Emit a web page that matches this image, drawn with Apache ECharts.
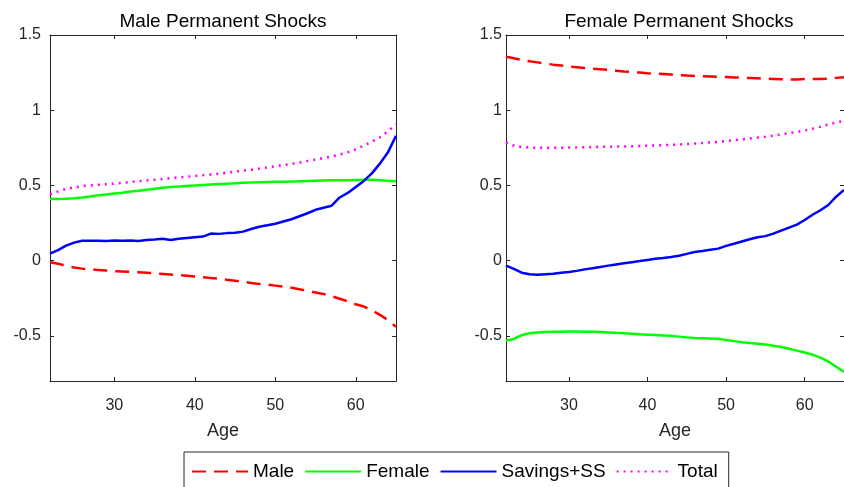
<!DOCTYPE html>
<html><head><meta charset="utf-8">
<script src="https://cdn.jsdelivr.net/npm/echarts@6/dist/echarts.min.js"></script>
<style>html,body{margin:0;padding:0;background:#fff}#c{width:844px;height:487px}</style>
</head><body><div id="c"></div>
<script>
const ages = [22,23,24,25,26,27,28,29,30,31,32,33,34,35,36,37,38,39,40,41,42,43,44,45,46,47,48,49,50,51,52,53,54,55,56,57,58,59,60,61,62,63,64,65];
const xTicks = [30,40,50,60];
const yTicks = [-0.5,0,0.5,1,1.5];
const seriesNames = ['Male','Female','Savings+SS','Total'];
const panelTitles = ['Male Permanent Shocks','Female Permanent Shocks'];

// Panel 1: Male Permanent Shocks
const maleShock_Male = [-0.01,-0.02,-0.035,-0.045,-0.053,-0.058,-0.062,-0.066,-0.07,-0.072,-0.075,-0.077,-0.08,-0.085,-0.088,-0.092,-0.096,-0.1,-0.105,-0.11,-0.116,-0.12,-0.127,-0.133,-0.14,-0.148,-0.155,-0.16,-0.166,-0.173,-0.18,-0.19,-0.2,-0.212,-0.222,-0.237,-0.253,-0.27,-0.29,-0.305,-0.33,-0.36,-0.395,-0.44];
const maleShock_Female = [0.41,0.41,0.412,0.415,0.42,0.427,0.435,0.44,0.447,0.452,0.46,0.465,0.472,0.478,0.485,0.49,0.493,0.497,0.5,0.503,0.506,0.509,0.512,0.515,0.518,0.52,0.522,0.523,0.524,0.525,0.526,0.527,0.529,0.531,0.533,0.535,0.534,0.535,0.536,0.537,0.538,0.535,0.531,0.528];
const maleShock_Savings = [0.047,0.07,0.1,0.12,0.132,0.133,0.132,0.13,0.134,0.133,0.134,0.13,0.137,0.14,0.145,0.138,0.145,0.15,0.155,0.16,0.18,0.178,0.183,0.186,0.193,0.21,0.225,0.235,0.245,0.26,0.275,0.295,0.315,0.338,0.352,0.365,0.42,0.45,0.49,0.53,0.58,0.645,0.72,0.83];
const maleShock_Total = [0.44,0.46,0.477,0.487,0.495,0.5,0.504,0.508,0.512,0.517,0.523,0.528,0.533,0.538,0.543,0.548,0.553,0.558,0.563,0.568,0.573,0.578,0.585,0.592,0.598,0.605,0.612,0.62,0.627,0.635,0.643,0.652,0.662,0.672,0.682,0.692,0.705,0.72,0.74,0.765,0.79,0.82,0.86,0.905];

// Panel 2: Female Permanent Shocks
const femaleShock_Male = [1.355,1.345,1.335,1.325,1.318,1.31,1.303,1.297,1.29,1.285,1.28,1.276,1.272,1.268,1.263,1.258,1.254,1.25,1.246,1.243,1.24,1.237,1.233,1.23,1.228,1.226,1.224,1.222,1.22,1.218,1.216,1.214,1.212,1.21,1.208,1.206,1.205,1.205,1.207,1.208,1.208,1.21,1.215,1.22];
const femaleShock_Female = [-0.533,-0.52,-0.495,-0.483,-0.478,-0.475,-0.473,-0.472,-0.471,-0.471,-0.472,-0.473,-0.475,-0.477,-0.48,-0.482,-0.486,-0.49,-0.492,-0.494,-0.497,-0.5,-0.505,-0.51,-0.514,-0.516,-0.518,-0.52,-0.527,-0.535,-0.542,-0.548,-0.553,-0.558,-0.565,-0.574,-0.585,-0.598,-0.61,-0.625,-0.645,-0.67,-0.705,-0.74];
const femaleShock_Savings = [-0.033,-0.055,-0.08,-0.09,-0.093,-0.09,-0.087,-0.08,-0.075,-0.068,-0.058,-0.05,-0.042,-0.033,-0.025,-0.017,-0.01,-0.003,0.005,0.012,0.018,0.025,0.033,0.045,0.058,0.064,0.072,0.08,0.098,0.112,0.127,0.142,0.155,0.163,0.18,0.2,0.22,0.24,0.27,0.305,0.335,0.37,0.425,0.47];
const femaleShock_Total = [0.787,0.765,0.755,0.752,0.75,0.75,0.75,0.751,0.752,0.753,0.754,0.755,0.756,0.757,0.758,0.759,0.76,0.762,0.764,0.766,0.768,0.77,0.772,0.775,0.778,0.782,0.786,0.79,0.795,0.8,0.806,0.812,0.818,0.824,0.831,0.839,0.847,0.855,0.865,0.877,0.89,0.905,0.918,0.93];

const panels = [
  [maleShock_Male, maleShock_Female, maleShock_Savings, maleShock_Total],
  [femaleShock_Male, femaleShock_Female, femaleShock_Savings, femaleShock_Total]
];

const FONT = '"Liberation Sans", Arial, Helvetica, sans-serif';
const AX = '#262626';
const styles = [
  {color:'#ff0000', type:[14,8]},
  {color:'#00ff00', type:'solid'},
  {color:'#0000ff', type:'solid'},
  {color:'#ff00ff', type:[2,5]}
];

const grids = [
  {left:50, top:35, width:346, height:346},
  {left:506, top:35, width:346, height:346}
];

const xAxes = [], yAxes = [], series = [];
grids.forEach((g, gi) => {
  const base = {
    gridIndex: gi, type:'value', min:22, max:65,
    axisLine:{show:true, onZero:false, lineStyle:{color:AX, width:1}},
    splitLine:{show:false}
  };
  xAxes.push(Object.assign({}, base, {
    position:'bottom',
    axisTick:{show:true, inside:true, length:4, customValues:xTicks, lineStyle:{color:AX}},
    axisLabel:{show:true, customValues:xTicks, margin:17, fontSize:16, color:AX, fontFamily:FONT},
    name:'Age', nameLocation:'middle', nameGap:41,
    nameTextStyle:{fontSize:18, color:AX, fontFamily:FONT}
  }));
  xAxes.push(Object.assign({}, base, {
    position:'top',
    axisTick:{show:true, inside:true, length:4, customValues:xTicks, lineStyle:{color:AX}},
    axisLabel:{show:false}
  }));
  const ybase = {
    gridIndex: gi, type:'value', min:-0.8, max:1.5,
    axisLine:{show:true, onZero:false, lineStyle:{color:AX, width:1}},
    splitLine:{show:false}
  };
  yAxes.push(Object.assign({}, ybase, {
    position:'left',
    axisTick:{show:true, inside:true, length:4, customValues:yTicks, lineStyle:{color:AX}},
    axisLabel:{show:true, customValues:yTicks, margin: gi===0 ? 9 : 4, fontSize:16, color:AX, fontFamily:FONT,
      formatter: v => String(Math.round(v*10)/10)}
  }));
  yAxes.push(Object.assign({}, ybase, {
    position:'right',
    axisTick:{show:true, inside:true, length:4, customValues:yTicks, lineStyle:{color:AX}},
    axisLabel:{show:false}
  }));
  panels[gi].forEach((vals, si) => {
    series.push({
      type:'line', name:seriesNames[si],
      xAxisIndex: gi*2, yAxisIndex: gi*2,
      data: ages.map((a, i) => [a, vals[i]]),
      symbol:'none', smooth:false, clip:true,
      lineStyle:{color:styles[si].color, type:styles[si].type, width:2.5},
      itemStyle:{color:styles[si].color},
      emphasis:{disabled:true}, silent:true
    });
  });
});

const chart = echarts.init(document.getElementById('c'), null, {renderer:'canvas'});
chart.setOption({
  animation:false,
  backgroundColor:'#ffffff',
  title: panelTitles.map((t, i) => ({
    text:t, left: (grids[i].left + grids[i].width/2), top:12, textAlign:'center',
    padding:0,
    textStyle:{fontSize:19, fontWeight:'normal', color:'#000', fontFamily:FONT}
  })),
  legend:{
    data: seriesNames, left:184, top:452, orient:'horizontal',
    itemWidth:56, itemHeight:12, itemGap:10,
    padding:[10,11,8,7],
    borderColor:AX, borderWidth:1, backgroundColor:'#fff',
    itemStyle:{opacity:0},
    textStyle:{fontSize:19, color:'#000', fontFamily:FONT},
    selectedMode:false
  },
  grid: grids,
  xAxis: xAxes,
  yAxis: yAxes,
  series: series
});
</script>
</body></html>
